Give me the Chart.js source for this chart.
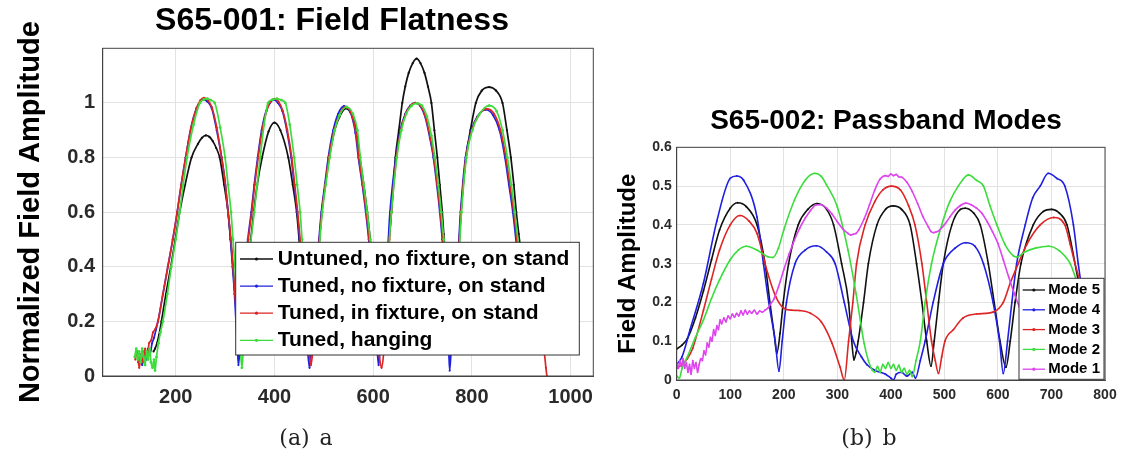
<!DOCTYPE html>
<html lang="en">
<head>
<meta charset="UTF-8">
<title>S65 field flatness and passband modes</title>
<script src="https://cdn.jsdelivr.net/npm/chart.js@4"></script>
<style>
  html, body { margin: 0; padding: 0; background: #fff; overflow: hidden; }
  body { width: 1134px; height: 456px; position: relative; }
  canvas { position: absolute; top: 0; }
  #flatness { left: 0; }
  #passband { left: 608px; }
  .caption { position: absolute; top: 426px; width: 200px; text-align: center;
             font: 22px/24px "DejaVu Serif", serif; color: #222; word-spacing: 3px; }
</style>
</head>
<body>
<canvas id="flatness" width="664" height="456"></canvas>
<canvas id="passband" width="556" height="456"></canvas>
<div class="caption" style="left:206px">(a) a</div>
<div class="caption" style="left:769px">(b) b</div>

<script>
// ---- (a) S65-001 field flatness: [bead position, normalized amplitude] ----
const flatXTicks = [200, 400, 600, 800, 1000];
const flatYTicks = [0, 0.2, 0.4, 0.6, 0.8, 1];

const untuned = [[155,0.09],[158,0.1],[162,0.12],[166,0.15],[171,0.2],[180,0.3],[190,0.4],[199,0.5],[208,0.6],[219,0.7],[232,0.8],[245,0.85],[253,0.872],[261,0.881],[268,0.876],[275,0.86],[282,0.835],[289,0.8],[298,0.7],[306,0.6],[311,0.5],[316,0.4],[320,0.3],[325,0.2],[329,0.13],[332,0.1],[336,0.14],[341,0.25],[347,0.42],[352,0.5],[358,0.6],[365,0.7],[375,0.8],[388,0.895],[400,0.928],[412,0.9],[428,0.8],[437,0.7],[445,0.6],[450,0.5],[454,0.42],[459,0.3],[465,0.18],[470,0.11],[473,0.1],[477,0.14],[482,0.28],[489,0.45],[496,0.6],[503,0.7],[511,0.8],[522,0.9],[532,0.95],[545,0.98],[558,0.95],[566,0.9],[573,0.8],[581,0.7],[588,0.6],[594,0.5],[597,0.44],[603,0.3],[609,0.17],[614,0.1],[618,0.12],[623,0.25],[630,0.45],[637,0.6],[645,0.8],[652,0.9],[659,1.0],[665,1.06],[672,1.11],[680,1.145],[688,1.162],[696,1.145],[704,1.11],[711,1.06],[718,1.0],[724,0.9],[730,0.8],[735,0.7],[740,0.6],[743,0.52],[746,0.44],[750,0.3],[754,0.18],[758,0.12],[762,0.15],[767,0.3],[773,0.45],[778,0.6],[788,0.8],[797,0.9],[808,1.0],[820,1.045],[835,1.058],[849,1.045],[862,1.0],[871,0.9],[879,0.8],[885,0.7],[890,0.6],[895,0.52],[900,0.44],[906,0.3],[912,0.18],[918,0.12]];

const tunedFree = [[124,0.05],[128,0.08],[132,0.04],[136,0.09],[140,0.06],[144,0.1],[148,0.08],[152,0.12],[156,0.14],[160,0.17],[164,0.2],[174,0.3],[184,0.4],[194,0.5],[203,0.6],[211,0.7],[220,0.8],[231,0.91],[242,0.98],[250,1.005],[256,1.012],[264,1.005],[273,0.98],[283,0.9],[293,0.8],[300,0.71],[306,0.6],[311,0.5],[315,0.4],[319,0.3],[322,0.2],[325,0.1],[327,0.04],[330,0.1],[333,0.2],[337,0.3],[342,0.42],[346,0.5],[353,0.6],[359,0.7],[366,0.8],[374,0.9],[383,0.97],[391,1.0],[399,1.012],[407,1.0],[416,0.97],[425,0.9],[434,0.8],[440,0.7],[446,0.6],[451,0.5],[455,0.4],[459,0.3],[463,0.2],[467,0.1],[471,0.03],[475,0.1],[479,0.22],[484,0.35],[488,0.45],[495,0.6],[502,0.7],[509,0.8],[519,0.9],[529,0.96],[541,0.988],[554,0.965],[564,0.89],[570,0.8],[578,0.7],[585,0.6],[591,0.5],[595,0.42],[600,0.3],[604,0.2],[608,0.1],[611,0.04],[614,0.1],[618,0.2],[623,0.35],[629,0.45],[634,0.6],[646,0.8],[655,0.9],[665,0.96],[675,0.99],[685,1.0],[695,0.99],[705,0.95],[715,0.87],[722,0.8],[729,0.7],[735,0.6],[740,0.5],[744,0.4],[747,0.3],[750,0.2],[753,0.1],[755,0.02],[758,0.1],[762,0.25],[767,0.37],[772,0.45],[777,0.6],[787,0.8],[799,0.9],[811,0.95],[828,0.975],[843,0.955],[856,0.9],[867,0.8],[875,0.7],[883,0.6],[892,0.45],[898,0.33],[904,0.22],[910,0.15]];

const tunedFixture = [[118,0.06],[122,0.09],[126,0.03],[130,0.08],[134,0.05],[138,0.1],[142,0.07],[146,0.12],[150,0.13],[154,0.16],[158,0.17],[164,0.2],[174,0.3],[184,0.4],[194,0.5],[203,0.6],[211,0.7],[220,0.8],[231,0.91],[242,0.98],[250,1.01],[257,1.019],[265,1.01],[273,0.985],[283,0.91],[293,0.8],[300,0.71],[306,0.6],[312,0.5],[316,0.4],[320,0.3],[324,0.2],[327,0.13],[329,0.1],[331,0.12],[334,0.2],[338,0.3],[343,0.42],[347,0.5],[354,0.6],[360,0.7],[367,0.8],[375,0.9],[384,0.97],[392,1.005],[400,1.015],[408,1.005],[417,0.97],[426,0.9],[435,0.8],[441,0.7],[447,0.6],[452,0.5],[456,0.4],[460,0.3],[465,0.18],[470,0.09],[474,0.04],[478,0.1],[483,0.25],[489,0.45],[496,0.6],[503,0.7],[510,0.8],[520,0.89],[530,0.95],[543,0.985],[556,0.96],[566,0.88],[571,0.8],[579,0.7],[586,0.6],[592,0.5],[596,0.42],[601,0.3],[607,0.17],[612,0.08],[617,0.03],[621,0.08],[625,0.2],[629,0.35],[633,0.5],[637,0.6],[647,0.8],[656,0.9],[666,0.96],[676,0.99],[686,1.0],[696,0.99],[706,0.95],[716,0.87],[723,0.8],[730,0.7],[736,0.6],[741,0.5],[745,0.4],[749,0.3],[753,0.19],[757,0.12],[761,0.16],[765,0.27],[769,0.37],[773,0.45],[778,0.6],[788,0.8],[800,0.9],[812,0.95],[830,0.978],[845,0.96],[858,0.9],[869,0.8],[877,0.7],[885,0.6],[894,0.45],[900,0.35],[908,0.25],[918,0.17],[930,0.12],[942,0.1],[947,0.08],[950,0.03],[952,0.0]];

const hanging = [[117,0.07],[120,0.1],[123,0.06],[126,0.09],[129,0.05],[132,0.1],[135,0.07],[138,0.04],[141,0.09],[144,0.06],[147,0.1],[150,0.05],[153,0.03],[156,0.06],[158,0.02],[161,0.07],[165,0.12],[169,0.16],[174,0.2],[183,0.3],[191,0.4],[200,0.5],[208,0.6],[215,0.7],[223,0.8],[236,0.92],[249,1.0],[257,1.012],[264,1.016],[271,1.01],[279,1.0],[290,0.91],[300,0.8],[306,0.7],[312,0.6],[316,0.5],[320,0.4],[323,0.3],[327,0.2],[331,0.1],[334,0.03],[337,0.1],[341,0.22],[346,0.35],[351,0.47],[359,0.6],[365,0.7],[371,0.8],[379,0.92],[387,1.0],[396,1.012],[405,1.016],[414,1.01],[422,1.0],[431,0.92],[440,0.8],[446,0.7],[452,0.6],[456,0.5],[459,0.44],[463,0.3],[467,0.2],[472,0.12],[476,0.1],[480,0.15],[485,0.3],[490,0.45],[497,0.6],[504,0.7],[512,0.8],[522,0.9],[532,0.955],[546,0.985],[559,0.96],[568,0.9],[574,0.8],[581,0.7],[588,0.6],[594,0.5],[598,0.42],[603,0.3],[609,0.18],[615,0.1],[620,0.12],[625,0.25],[631,0.45],[637,0.6],[648,0.8],[657,0.9],[667,0.96],[678,0.99],[689,0.998],[699,0.99],[709,0.95],[718,0.88],[725,0.8],[732,0.7],[738,0.6],[743,0.5],[747,0.4],[751,0.28],[755,0.16],[759,0.1],[763,0.15],[768,0.32],[774,0.45],[779,0.6],[789,0.8],[801,0.9],[814,0.955],[835,0.99],[850,0.97],[862,0.9],[872,0.8],[880,0.7],[887,0.6],[896,0.45],[902,0.33],[908,0.22],[914,0.15]];

// ---- (b) S65-002 passband modes: [bead position, field amplitude] ----
const passXTicks = [0, 100, 200, 300, 400, 500, 600, 700, 800];
const passYTicks = [0, 0.1, 0.2, 0.3, 0.4, 0.5, 0.6];

const mode5 = [[0,0.08],[10,0.09],[20,0.107],[35,0.16],[50,0.23],[65,0.31],[80,0.387],[100,0.443],[114,0.457],[130,0.447],[150,0.4],[165,0.3],[175,0.19],[182,0.12],[187,0.069],[193,0.12],[199,0.2],[209,0.3],[227,0.4],[245,0.44],[262,0.455],[280,0.44],[293,0.4],[308,0.3],[321,0.2],[327,0.1],[331,0.052],[335,0.07],[339,0.1],[349,0.2],[358,0.3],[374,0.4],[390,0.44],[404,0.449],[420,0.44],[436,0.4],[448,0.3],[458,0.2],[467,0.1],[475,0.036],[481,0.1],[489,0.2],[498,0.3],[514,0.4],[530,0.44],[539,0.443],[555,0.43],[567,0.4],[582,0.3],[593,0.2],[604,0.1],[615,0.033],[623,0.1],[632,0.2],[643,0.3],[666,0.4],[685,0.435],[700,0.44],[715,0.43],[729,0.4],[744,0.3],[755,0.22]];

const mode4 = [[0,0.04],[10,0.06],[25,0.13],[50,0.25],[75,0.41],[100,0.52],[112,0.526],[125,0.515],[150,0.42],[162,0.3],[172,0.2],[184,0.1],[191,0.023],[197,0.1],[205,0.2],[221,0.3],[240,0.335],[261,0.346],[280,0.33],[296,0.3],[313,0.2],[330,0.1],[345,0.06],[355,0.04],[370,0.025],[380,0.02],[390,0.015],[400,0.005],[405,0.0],[410,0.015],[420,0.02],[430,0.01],[440,0.02],[446,0.005],[455,0.05],[464,0.1],[479,0.2],[498,0.3],[520,0.34],[540,0.354],[557,0.345],[573,0.3],[591,0.2],[603,0.1],[610,0.017],[618,0.1],[626,0.2],[635,0.3],[651,0.4],[665,0.47],[679,0.5],[694,0.533],[710,0.52],[725,0.5],[741,0.4],[750,0.3],[755,0.25]];

const mode3 = [[0,0.03],[10,0.04],[20,0.055],[30,0.082],[50,0.18],[65,0.26],[80,0.335],[100,0.4],[118,0.424],[135,0.41],[150,0.378],[170,0.275],[185,0.215],[200,0.185],[215,0.18],[230,0.179],[250,0.172],[270,0.15],[290,0.095],[305,0.034],[313,0.0],[321,0.1],[329,0.2],[336,0.3],[352,0.4],[370,0.46],[385,0.49],[401,0.5],[418,0.49],[433,0.45],[445,0.4],[458,0.3],[467,0.2],[476,0.1],[483,0.05],[489,0.017],[495,0.06],[501,0.1],[517,0.13],[535,0.16],[560,0.17],[591,0.175],[610,0.2],[623,0.25],[638,0.3],[654,0.35],[679,0.4],[704,0.419],[725,0.4],[735,0.35],[744,0.3],[752,0.26]];

const mode2 = [[0,0.01],[5,0.005],[10,0.03],[20,0.06],[35,0.11],[50,0.155],[65,0.21],[80,0.258],[100,0.31],[115,0.335],[130,0.345],[150,0.335],[170,0.318],[180,0.316],[190,0.34],[200,0.387],[220,0.464],[240,0.515],[258,0.533],[270,0.525],[280,0.503],[300,0.447],[320,0.335],[335,0.223],[350,0.095],[358,0.05],[365,0.026],[370,0.02],[375,0.035],[380,0.02],[385,0.04],[390,0.03],[395,0.045],[400,0.03],[405,0.04],[410,0.025],[415,0.038],[420,0.02],[425,0.03],[430,0.015],[435,0.025],[440,0.009],[447,0.05],[455,0.1],[464,0.2],[476,0.3],[495,0.4],[510,0.46],[526,0.5],[545,0.529],[560,0.515],[573,0.5],[585,0.45],[598,0.4],[613,0.35],[629,0.32],[635,0.317],[650,0.33],[670,0.34],[694,0.345],[715,0.333],[735,0.3],[746,0.26]];

const mode1 = [[0,0.045],[3,0.03],[6,0.05],[9,0.035],[12,0.055],[15,0.03],[18,0.045],[21,0.02],[24,0.04],[27,0.015],[30,0.05],[33,0.03],[36,0.045],[39,0.02],[42,0.04],[45,0.055],[48,0.05],[51,0.075],[54,0.065],[57,0.095],[60,0.085],[63,0.11],[66,0.1],[69,0.13],[72,0.115],[75,0.14],[78,0.13],[81,0.155],[84,0.145],[88,0.16],[92,0.15],[96,0.165],[100,0.158],[104,0.17],[108,0.162],[112,0.172],[116,0.165],[120,0.178],[124,0.168],[128,0.18],[132,0.17],[136,0.178],[140,0.172],[145,0.18],[150,0.17],[155,0.178],[160,0.175],[165,0.18],[170,0.185],[175,0.195],[182,0.21],[190,0.24],[200,0.284],[210,0.325],[220,0.361],[230,0.392],[240,0.417],[250,0.437],[260,0.451],[270,0.452],[280,0.443],[290,0.428],[300,0.408],[310,0.39],[320,0.378],[325,0.374],[330,0.376],[335,0.378],[340,0.387],[350,0.415],[360,0.451],[370,0.49],[380,0.518],[390,0.527],[395,0.525],[400,0.531],[405,0.527],[410,0.53],[415,0.524],[420,0.523],[430,0.51],[440,0.486],[450,0.455],[460,0.421],[470,0.395],[475,0.383],[480,0.38],[485,0.382],[490,0.385],[500,0.4],[510,0.42],[520,0.438],[530,0.45],[540,0.456],[550,0.452],[560,0.443],[570,0.43],[580,0.408],[590,0.382],[600,0.352],[610,0.31],[620,0.266],[630,0.225],[640,0.189],[650,0.16]];

const FONT = '"Liberation Sans", Arial, Helvetica, sans-serif';
const BLACK = '#111111', BLUE = '#2020e0', RED = '#dd2525', GREEN = '#3ddc3d', MAGENTA = '#dd44ee';

const pts = arr => arr.map(([x, y]) => ({ x, y }));

function series(label, data, color, order, width, radius) {
  return {
    label, data: pts(data), order,
    borderColor: color, backgroundColor: color,
    borderWidth: width, pointRadius: radius, pointBorderWidth: 0, pointHoverRadius: 0,
    cubicInterpolationMode: 'monotone', fill: false
  };
}

// box around the plot area, like MATLAB "box on"
const frame = {
  id: 'frame',
  afterDatasetsDraw(chart) {
    const { ctx, chartArea: a } = chart;
    ctx.save();
    ctx.strokeStyle = '#444';
    ctx.lineWidth = 1;
    ctx.strokeRect(a.left, a.top, a.right - a.left, a.bottom - a.top);
    ctx.restore();
  }
};

// legend box drawn inside the axes
const boxLegend = {
  id: 'boxLegend',
  afterDatasetsDraw(chart, args, o) {
    const { ctx, chartArea: a } = chart;
    const x0 = a.left + o.left, y0 = a.top + o.top;
    ctx.save();
    ctx.fillStyle = '#fff';
    ctx.fillRect(x0, y0, o.width, o.height);
    ctx.strokeStyle = '#333';
    ctx.lineWidth = 1;
    ctx.strokeRect(x0, y0, o.width, o.height);
    ctx.font = o.font;
    ctx.textBaseline = 'middle';
    ctx.textAlign = 'left';
    chart.data.datasets.forEach((ds, i) => {
      const y = y0 + o.first + i * o.step;
      ctx.strokeStyle = ds.borderColor;
      ctx.lineWidth = 1.3;
      ctx.beginPath();
      ctx.moveTo(x0 + o.lineStart, y);
      ctx.lineTo(x0 + o.lineEnd, y);
      ctx.stroke();
      ctx.fillStyle = ds.borderColor;
      ctx.beginPath();
      ctx.arc(x0 + (o.lineStart + o.lineEnd) / 2, y, 1.6, 0, Math.PI * 2);
      ctx.fill();
      ctx.fillStyle = '#000';
      ctx.fillText(ds.label, x0 + o.textX, y);
    });
    ctx.restore();
  }
};

function axis(ticksList, min, max, size, pad, extra) {
  return Object.assign({
    type: 'linear', min, max,
    afterBuildTicks: s => { s.ticks = ticksList.map(v => ({ value: v })); },
    grid: { color: '#e2e2e2', drawTicks: false },
    border: { color: '#444' },
    ticks: { font: { family: FONT, size, weight: 'bold' }, color: '#2a2a2a', padding: pad,
             maxRotation: 0, autoSkip: false, callback: v => String(v) }
  }, extra);
}

const spacer = w => ({
  position: 'right', display: true,
  afterFit: s => { s.width = w; },
  grid: { display: false }, border: { display: false }, ticks: { display: false }
});

new Chart(document.getElementById('flatness'), {
  type: 'line',
  data: {
    datasets: [
      series('Untuned, no fixture, on stand', untuned, BLACK, 4, 1.7, 1.1),
      series('Tuned, no fixture, on stand', tunedFree, BLUE, 3, 1.7, 1.1),
      series('Tuned, in fixture, on stand', tunedFixture, RED, 2, 1.7, 1.1),
      series('Tuned, hanging', hanging, GREEN, 1, 1.7, 1.4)
    ]
  },
  options: {
    responsive: false, animation: false,
    layout: { padding: { top: 0, bottom: 40, left: 0, right: 0 } },
    scales: {
      x: axis(flatXTicks, 52, 1046, 20, 9.5, { afterFit: s => { s.height = 40; } }),
      y: axis(flatYTicks, 0, 1.2, 20, 7.7, {
        afterFit: s => { s.width = 102.7; },
        title: { display: true, text: 'Normalized Field Amplitude', color: '#000',
                 font: { family: FONT, size: 29, weight: 'bold', lineHeight: 1 },
                 padding: { top: 16.5, bottom: 0 } }
      }),
      y2: spacer(70.7)
    },
    plugins: {
      legend: { display: false },
      tooltip: { enabled: false },
      title: { display: true, text: 'S65-001: Field Flatness', color: '#000',
               font: { family: FONT, size: 32, weight: 'bold', lineHeight: 1 },
               padding: { top: 5.2, bottom: 11.1 } },
      boxLegend: { left: 133, top: 194, width: 343.6, height: 112.7, first: 16.7, step: 27.1,
                   lineStart: 4.3, lineEnd: 37.3, textX: 42, font: 'bold 21px ' + FONT }
    }
  },
  plugins: [frame, boxLegend]
});

new Chart(document.getElementById('passband'), {
  type: 'line',
  data: {
    datasets: [
      series('Mode 5', mode5, BLACK, 5, 1.6, 0.9),
      series('Mode 4', mode4, BLUE, 4, 1.6, 0.9),
      series('Mode 3', mode3, RED, 3, 1.6, 0.9),
      series('Mode 2', mode2, GREEN, 2, 1.6, 0.9),
      series('Mode 1', mode1, MAGENTA, 1, 1.6, 0.9)
    ]
  },
  options: {
    responsive: false, animation: false,
    layout: { padding: { top: 95, bottom: 36, left: 0, right: 0 } },
    scales: {
      x: axis(passXTicks, 0, 800, 14, 6.6, { afterFit: s => { s.height = 40; } }),
      y: axis(passYTicks, 0, 0.6, 14, 5, {
        afterFit: s => { s.width = 68.7; },
        title: { display: true, text: 'Field Amplitude', color: '#000',
                 font: { family: FONT, size: 24, weight: 'bold', lineHeight: 1 },
                 padding: { top: 8, bottom: 0 } }
      }),
      y2: spacer(59)
    },
    plugins: {
      legend: { display: false },
      tooltip: { enabled: false },
      title: { display: true, text: 'S65-002: Passband Modes', color: '#000',
               font: { family: FONT, size: 28, weight: 'bold', lineHeight: 1 },
               padding: { top: 12, bottom: 12.3 } },
      boxLegend: { left: 342.3, top: 131, width: 85, height: 101, first: 11.7, step: 19.8,
                   lineStart: 3.7, lineEnd: 26, textX: 29.3, font: 'bold 15px ' + FONT }
    }
  },
  plugins: [frame, boxLegend]
});
</script>
</body>
</html>
